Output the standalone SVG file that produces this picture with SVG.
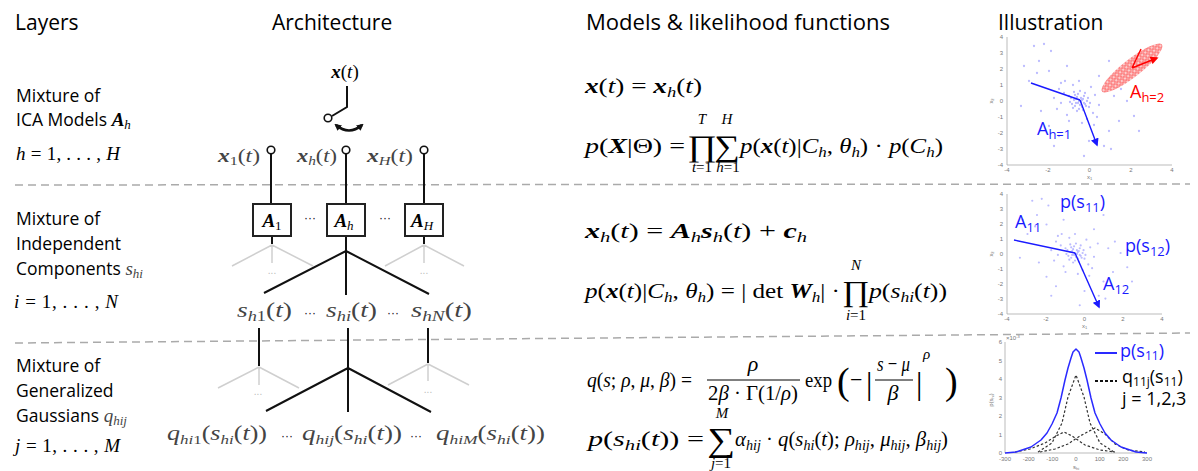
<svg xmlns="http://www.w3.org/2000/svg" width="1198" height="471" viewBox="0 0 1198 471">
<defs>
<style>
.h{font-family:"Open Sans","Liberation Sans",sans-serif;font-size:21px;fill:#000}
.l{font-family:"Open Sans","Liberation Sans",sans-serif;font-size:17.5px;fill:#000}
.m{font-family:"Liberation Serif","Times New Roman",serif;font-style:italic;fill:#000}
.op{font-family:"Liberation Serif","Times New Roman",serif;font-style:normal;fill:#000}
.bo{font-family:"Liberation Serif","DejaVu Serif",serif;font-style:normal;fill:#000;text-anchor:middle}
.g{fill:#444}
.b{font-weight:bold}
.n{font-style:normal}
.dash{stroke:#aaa;stroke-width:1.5;stroke-dasharray:8 5;fill:none}
.k{stroke:#111;stroke-width:2;fill:none}
.gr{stroke:#cfcfcf;stroke-width:1.5;fill:none}
.term{fill:#fff;stroke:#111;stroke-width:1.6}
.box{fill:#fff;stroke:#222;stroke-width:2}
.ax{stroke:#aaa;stroke-width:0.8;fill:none}
.tk{font-family:"Liberation Sans",sans-serif;font-size:6px;fill:#777}
.il{font-family:"Open Sans","Liberation Sans",sans-serif;font-size:18px}
.dots{font-family:"Liberation Sans",sans-serif;font-size:12px;fill:#111}
.gdots{font-family:"Liberation Sans",sans-serif;font-size:10px;fill:#bbb}
.pts{stroke:#6a6aff;stroke-opacity:0.45;stroke-width:2.3;stroke-linecap:round;fill:none}
</style>
<marker id="ak" viewBox="0 0 10 10" refX="7" refY="5" markerWidth="7" markerHeight="7" markerUnits="userSpaceOnUse" orient="auto-start-reverse"><path d="M0 0L10 5L0 10z" fill="#111"/></marker>
<marker id="abl" viewBox="0 0 10 10" refX="8" refY="5" markerWidth="8" markerHeight="8" markerUnits="userSpaceOnUse" orient="auto"><path d="M0 0L10 5L0 10z" fill="#1a1aff"/></marker>
<marker id="ard" viewBox="0 0 10 10" refX="8" refY="5" markerWidth="8" markerHeight="8" markerUnits="userSpaceOnUse" orient="auto"><path d="M0 0L10 5L0 10z" fill="#f00"/></marker>
<pattern id="rp" width="4" height="4" patternUnits="userSpaceOnUse"><circle cx="2" cy="2" r="1.4" fill="none" stroke="#f22" stroke-width="0.6"/></pattern>
<path id="bp" class="pts" d="M0 0h0M2 1h0M-3 2h0M4 -2h0M-5 -1h0M1 4h0M-2 -4h0M6 3h0M-7 3h0M3 6h0M-4 5h0M5 -5h0M-1 -7h0M8 0h0M-8 -3h0M2 -3h0M-3 -2h0M7 5h0M-6 7h0M0 8h0M9 -3h0M-9 1h0M4 9h0M-2 10h0M10 6h0M-10 -5h0M1 -10h0M-5 -9h0M11 2h0M6 -8h0M-1 2h0M3 -1h0M-4 -6h0M5 2h0M-15 -8h0M-18 2h0M14 12h0M16 -6h0M-12 14h0M-20 -12h0M20 4h0M8 18h0M-6 -16h0M12 -14h0M-22 8h0M18 16h0M-14 -20h0M3 22h0M-25 -3h0M24 -10h0M0 -20h0M-10 20h0M15 24h0M-18 -18h0M-45 -55h0M-35 -57h0M-28 -50h0M-40 -40h0M-30 -30h0M-50 -20h0M-58 5h0M-38 10h0M-30 25h0M-20 35h0M10 40h0M25 45h0M32 48h0M30 30h0M40 20h0M48 0h0M42 -12h0M55 15h0M30 -40h0M20 -25h0M-25 45h0M5 55h0M-42 -28h0M-12 -35h0M35 -5h0M60 30h0M-55 -35h0"/>
</defs>
<rect width="1198" height="471" fill="#fff"/>

<g id="headers">
<text class="h" x="15" y="30">Layers</text>
<text class="h" x="272" y="30">Architecture</text>
<text class="h" x="586" y="30" textLength="304" lengthAdjust="spacingAndGlyphs">Models &amp; likelihood functions</text>
<text class="h" x="998" y="30">Illustration</text>
</g>

<g id="separators">
<line class="dash" x1="15" y1="185" x2="1190" y2="184"/>
<line class="dash" x1="15" y1="343" x2="1190" y2="333"/>
</g>

<g id="layer-ica">
<text class="l" x="16" y="102">Mixture of</text>
<text class="l" x="16" y="126">ICA Models <tspan class="m b" font-size="19">A</tspan><tspan class="m" font-size="13" dy="3">h</tspan></text>
<text class="m" x="16" y="160" font-size="19" textLength="104" lengthAdjust="spacing">h <tspan class="n">= 1, . . . ,</tspan> H</text>
</g>
<g id="layer-components">
<text class="l" x="16" y="225">Mixture of</text>
<text class="l" x="16" y="250">Independent</text>
<text class="l" x="16" y="275">Components <tspan class="m g" font-size="19">s</tspan><tspan class="m g" font-size="13" dy="3">hi</tspan></text>
<text class="m" x="14" y="308" font-size="19" textLength="104" lengthAdjust="spacing">i <tspan class="n">= 1, . . . ,</tspan> N</text>
</g>
<g id="layer-gaussians">
<text class="l" x="16" y="372">Mixture of</text>
<text class="l" x="16" y="397">Generalized</text>
<text class="l" x="16" y="422">Gaussians <tspan class="m g" font-size="19">q</tspan><tspan class="m g" font-size="13" dy="3">hij</tspan></text>
<text class="m" x="15" y="452" font-size="19" textLength="105" lengthAdjust="spacing">j <tspan class="n">= 1, . . . ,</tspan> M</text>
</g>

<g id="connectors">
<path class="k" d="M347 86V107L332 116"/>
<path d="M336 125Q349 136 362 125" stroke="#111" stroke-width="2.5" fill="none" marker-start="url(#ak)" marker-end="url(#ak)"/>
<path class="k" d="M271 154V204M346 154V204M424 154V204"/>
<path class="k" d="M272 236V244M424 236V244M346 236V295M346 251L264 293M346 251L429 294"/>
<path class="gr" d="M272 245L232 266M272 245L313 266M272 245V263M424 245L385 266M424 245L464 266M424 245V263"/>
<path class="k" d="M259 328V366M428 328V363M348 328V412M348 368L266 411M348 368L431 412"/>
<path class="gr" d="M259 367L218 388M259 367L299 388M259 367V385M428 364L388 385M428 364L469 385M428 364V381"/>
</g>

<g id="switch">
<text class="m" x="345" y="78" font-size="19" text-anchor="middle"><tspan class="b">x</tspan><tspan class="n">(</tspan>t<tspan class="n">)</tspan></text>
<circle class="term" cx="328" cy="118" r="3.8"/>
</g>

<g id="module-1">
<circle class="term" cx="271" cy="150" r="3.8"/>
<text class="m g" x="218" y="162" font-size="19" textLength="42" lengthAdjust="spacingAndGlyphs"><tspan class="b">x</tspan><tspan font-size="13" dy="3" class="n">1</tspan><tspan class="n" dy="-3">(</tspan>t<tspan class="n">)</tspan></text>
<rect class="box" x="253" y="204" width="38" height="32"/>
<text class="m b" x="272" y="227" font-size="19" text-anchor="middle">A<tspan font-size="13" dy="3" class="n" font-weight="normal">1</tspan></text>
<text class="gdots" x="272" y="274" text-anchor="middle">...</text>
</g>
<g id="module-h">
<circle class="term" cx="346" cy="150" r="3.8"/>
<text class="m g" x="297" y="162" font-size="19" textLength="40" lengthAdjust="spacingAndGlyphs"><tspan class="b">x</tspan><tspan font-size="13" dy="3">h</tspan><tspan class="n" dy="-3">(</tspan>t<tspan class="n">)</tspan></text>
<rect class="box" x="327" y="204" width="38" height="32"/>
<text class="m b" x="344" y="227" font-size="19" text-anchor="middle">A<tspan font-size="13" dy="3" font-weight="normal">h</tspan></text>
</g>
<g id="module-H">
<circle class="term" cx="424" cy="150" r="3.8"/>
<text class="m g" x="367" y="162" font-size="19" textLength="46" lengthAdjust="spacingAndGlyphs"><tspan class="b">x</tspan><tspan font-size="13" dy="3">H</tspan><tspan class="n" dy="-3">(</tspan>t<tspan class="n">)</tspan></text>
<rect class="box" x="405" y="204" width="38" height="32"/>
<text class="m b" x="422" y="227" font-size="19" text-anchor="middle">A<tspan font-size="13" dy="3" font-weight="normal">H</tspan></text>
<text class="gdots" x="424" y="274" text-anchor="middle">...</text>
</g>
<g id="module-dots">
<text class="dots" x="310" y="222" text-anchor="middle">···</text>
<text class="dots" x="385" y="222" text-anchor="middle">···</text>
</g>

<g id="components">
<text class="m g" x="237" y="317" font-size="21" textLength="55" lengthAdjust="spacingAndGlyphs">s<tspan font-size="14" dy="4">h<tspan class="n">1</tspan></tspan><tspan class="n" dy="-4">(</tspan>t<tspan class="n">)</tspan></text>
<text class="dots" x="310" y="317" text-anchor="middle">···</text>
<text class="m g" x="326" y="317" font-size="21" textLength="51" lengthAdjust="spacingAndGlyphs">s<tspan font-size="14" dy="4">hi</tspan><tspan class="n" dy="-4">(</tspan>t<tspan class="n">)</tspan></text>
<text class="dots" x="393" y="317" text-anchor="middle">···</text>
<text class="m g" x="411" y="317" font-size="21" textLength="61" lengthAdjust="spacingAndGlyphs">s<tspan font-size="14" dy="4">hN</tspan><tspan class="n" dy="-4">(</tspan>t<tspan class="n">)</tspan></text>
<text class="gdots" x="258" y="395" text-anchor="middle">...</text>
<text class="gdots" x="428" y="393" text-anchor="middle">...</text>
</g>

<g id="gaussians">
<text class="m g" x="167" y="440" font-size="20" textLength="100" lengthAdjust="spacingAndGlyphs">q<tspan font-size="13" dy="4">hi<tspan class="n">1</tspan></tspan><tspan class="n" dy="-4">(</tspan>s<tspan font-size="13" dy="4">hi</tspan><tspan class="n" dy="-4">(</tspan>t<tspan class="n">))</tspan></text>
<text class="dots" x="287" y="440" text-anchor="middle">···</text>
<text class="m g" x="302" y="440" font-size="20" textLength="100" lengthAdjust="spacingAndGlyphs">q<tspan font-size="13" dy="4">hij</tspan><tspan class="n" dy="-4">(</tspan>s<tspan font-size="13" dy="4">hi</tspan><tspan class="n" dy="-4">(</tspan>t<tspan class="n">))</tspan></text>
<text class="dots" x="416" y="440" text-anchor="middle">···</text>
<text class="m g" x="436" y="440" font-size="20" textLength="109" lengthAdjust="spacingAndGlyphs">q<tspan font-size="13" dy="4">hiM</tspan><tspan class="n" dy="-4">(</tspan>s<tspan font-size="13" dy="4">hi</tspan><tspan class="n" dy="-4">(</tspan>t<tspan class="n">))</tspan></text>
</g>

<g id="eq-ica">
<text class="m" x="585" y="93" font-size="22" textLength="117" lengthAdjust="spacingAndGlyphs"><tspan class="b">x</tspan><tspan class="n">(</tspan>t<tspan class="n">) = </tspan><tspan class="b">x</tspan><tspan font-size="15" dy="4">h</tspan><tspan class="n" dy="-4">(</tspan>t<tspan class="n">)</tspan></text>
<text class="m" x="585" y="153" font-size="22" textLength="100" lengthAdjust="spacingAndGlyphs">p<tspan class="n">(</tspan><tspan class="b">X</tspan><tspan class="n">|Θ) =</tspan></text>
<text class="bo" font-size="30" transform="translate(702 156) scale(1.2 1)">∏</text>
<text class="m" x="702" y="124" font-size="15" text-anchor="middle">T</text>
<text class="m" x="702" y="172" font-size="15" text-anchor="middle">t<tspan class="n">=1</tspan></text>
<text class="bo" font-size="30" transform="translate(727 156) scale(1.2 1)">∑</text>
<text class="m" x="727" y="124" font-size="15" text-anchor="middle">H</text>
<text class="m" x="728" y="172" font-size="15" text-anchor="middle">h<tspan class="n">=1</tspan></text>
<text class="m" x="740" y="153" font-size="22" textLength="203" lengthAdjust="spacingAndGlyphs">p<tspan class="n">(</tspan><tspan class="b">x</tspan><tspan class="n">(</tspan>t<tspan class="n">)|</tspan>C<tspan font-size="15" dy="4">h</tspan><tspan class="n" dy="-4">, </tspan>θ<tspan font-size="15" dy="4">h</tspan><tspan class="n" dy="-4">) · </tspan>p<tspan class="n">(</tspan>C<tspan font-size="15" dy="4">h</tspan><tspan class="n" dy="-4">)</tspan></text>
</g>

<g id="eq-components">
<text class="m" x="585" y="238" font-size="22" textLength="222" lengthAdjust="spacingAndGlyphs"><tspan class="b">x</tspan><tspan font-size="15" dy="4">h</tspan><tspan class="n" dy="-4">(</tspan>t<tspan class="n">) = </tspan><tspan class="b">A</tspan><tspan font-size="15" dy="4">h</tspan><tspan class="b" dy="-4">s</tspan><tspan font-size="15" dy="4">h</tspan><tspan class="n" dy="-4">(</tspan>t<tspan class="n">) + </tspan><tspan class="b">c</tspan><tspan font-size="15" dy="4">h</tspan></text>
<text class="m" x="585" y="298" font-size="22" textLength="255" lengthAdjust="spacingAndGlyphs">p<tspan class="n">(</tspan><tspan class="b">x</tspan><tspan class="n">(</tspan>t<tspan class="n">)|</tspan>C<tspan font-size="15" dy="4">h</tspan><tspan class="n" dy="-4">, </tspan>θ<tspan font-size="15" dy="4">h</tspan><tspan class="n" dy="-4">) = | det </tspan><tspan class="b">W</tspan><tspan font-size="15" dy="4">h</tspan><tspan class="n" dy="-4">| ·</tspan></text>
<text class="bo" font-size="29" transform="translate(856 301) scale(1.15 1)">∏</text>
<text class="m" x="856" y="270" font-size="15" text-anchor="middle">N</text>
<text class="m" x="856" y="320" font-size="15" text-anchor="middle">i<tspan class="n">=1</tspan></text>
<text class="m" x="869" y="298" font-size="22" textLength="78" lengthAdjust="spacingAndGlyphs">p<tspan class="n">(</tspan>s<tspan font-size="15" dy="4">hi</tspan><tspan class="n" dy="-4">(</tspan>t<tspan class="n">))</tspan></text>
</g>

<g id="eq-gaussians">
<text class="m" x="587" y="387" font-size="22" textLength="105" lengthAdjust="spacingAndGlyphs">q<tspan class="n">(</tspan>s<tspan class="n">; </tspan>ρ<tspan class="n">, </tspan>μ<tspan class="n">, </tspan>β<tspan class="n">) =</tspan></text>
<text class="m" x="753" y="371" font-size="22" text-anchor="middle">ρ</text>
<line x1="707" y1="380" x2="800" y2="380" stroke="#000" stroke-width="1"/>
<text class="m" x="708" y="400" font-size="22" textLength="90" lengthAdjust="spacingAndGlyphs"><tspan class="n">2</tspan>β<tspan class="n"> · Γ(1/</tspan>ρ<tspan class="n">)</tspan></text>
<text class="op" x="805" y="387" font-size="22" textLength="27" lengthAdjust="spacingAndGlyphs">exp</text>
<text class="op" x="837" y="394" font-size="38">(</text>
<text class="op" x="850" y="387" font-size="22">−</text>
<text class="op" x="866" y="394" font-size="32">|</text>
<text class="m" x="877" y="371" font-size="22" textLength="33" lengthAdjust="spacingAndGlyphs">s <tspan class="n">−</tspan> μ</text>
<line x1="875" y1="380" x2="913" y2="380" stroke="#000" stroke-width="1"/>
<text class="m" x="893" y="400" font-size="22" text-anchor="middle">β</text>
<text class="op" x="916" y="394" font-size="32">|</text>
<text class="m" x="923" y="359" font-size="15">ρ</text>
<text class="op" x="945" y="394" font-size="38">)</text>
<text class="m" x="588" y="446" font-size="22" textLength="116" lengthAdjust="spacingAndGlyphs">p<tspan class="n">(</tspan>s<tspan font-size="15" dy="4">hi</tspan><tspan class="n" dy="-4">(</tspan>t<tspan class="n">)) =</tspan></text>
<text class="bo" font-size="34" transform="translate(721 451) scale(1.15 1)">∑</text>
<text class="m" x="722" y="418" font-size="15" text-anchor="middle">M</text>
<text class="m" x="721" y="468" font-size="15" text-anchor="middle">j<tspan class="n">=1</tspan></text>
<text class="m" x="735" y="446" font-size="22" textLength="213" lengthAdjust="spacingAndGlyphs">α<tspan font-size="15" dy="4">hij</tspan><tspan class="n" dy="-4"> · </tspan>q<tspan class="n">(</tspan>s<tspan font-size="15" dy="4">hi</tspan><tspan class="n" dy="-4">(</tspan>t<tspan class="n">); </tspan>ρ<tspan font-size="15" dy="4">hij</tspan><tspan class="n" dy="-4">, </tspan>μ<tspan font-size="15" dy="4">hij</tspan><tspan class="n" dy="-4">, </tspan>β<tspan font-size="15" dy="4">hij</tspan><tspan class="n" dy="-4">)</tspan></text>
</g>

<g id="plot-ica">
<path class="ax" d="M1007 37V165H1172"/>
<g class="tk" text-anchor="middle">
<text x="1007" y="172">-4</text><text x="1048" y="172">-2</text><text x="1089.5" y="172">0</text><text x="1131" y="172">2</text><text x="1172" y="172">4</text>
<text x="1089.5" y="179">x<tspan font-size="4" dy="1">1</tspan></text>
</g>
<g class="tk" text-anchor="end">
<text x="1003" y="39">4</text><text x="1003" y="55">3</text><text x="1003" y="71">2</text><text x="1003" y="87">1</text><text x="1003" y="103">0</text><text x="1003" y="119">-1</text><text x="1003" y="135">-2</text><text x="1003" y="151">-3</text><text x="1003" y="167">-4</text>
</g>
<text class="tk" transform="translate(993 101) rotate(-90)" text-anchor="middle">x<tspan font-size="4" dy="1">2</tspan></text>
<use href="#bp" transform="translate(1079 101)"/>
<g transform="translate(1132 68) rotate(-38)"><ellipse rx="38" ry="9" fill="#fbd2d2"/><ellipse rx="38" ry="9" fill="url(#rp)"/></g>
<path d="M1080 100L1031 83M1080 100L1097 145" stroke="#1a1aff" stroke-width="1.4" fill="none" marker-end="url(#abl)"/>
<path d="M1132 68L1141 49M1132 68L1157 58" stroke="#f00" stroke-width="1.4" fill="none" marker-end="url(#ard)"/>
<text class="il" x="1130" y="98" fill="#f00">A<tspan font-size="13" dy="4">h=2</tspan></text>
<text class="il" x="1037" y="135" fill="#1a1aff">A<tspan font-size="13" dy="4">h=1</tspan></text>
</g>

<g id="plot-components">
<path class="ax" d="M1007 194V314H1162"/>
<g class="tk" text-anchor="middle">
<text x="1007" y="321">-4</text><text x="1046" y="321">-2</text><text x="1084.5" y="321">0</text><text x="1123" y="321">2</text><text x="1162" y="321">4</text>
<text x="1084.5" y="328">x<tspan font-size="4" dy="1">1</tspan></text>
</g>
<g class="tk" text-anchor="end">
<text x="1003" y="196">4</text><text x="1003" y="211">3</text><text x="1003" y="226">2</text><text x="1003" y="241">1</text><text x="1003" y="256">0</text><text x="1003" y="271">-1</text><text x="1003" y="286">-2</text><text x="1003" y="301">-3</text><text x="1003" y="316">-4</text>
</g>
<text class="tk" transform="translate(993 254) rotate(-90)" text-anchor="middle">x<tspan font-size="4" dy="1">2</tspan></text>
<use href="#bp" transform="translate(1075 253) scale(0.95)"/>
<path d="M1075 253L1014 240M1075 253L1099 307" stroke="#1a1aff" stroke-width="1.4" fill="none" marker-end="url(#abl)"/>
<g class="il" fill="#1a1aff">
<text x="1060" y="208">p(s<tspan font-size="13" dy="4">11</tspan><tspan dy="-4">)</tspan></text>
<text x="1015" y="228">A<tspan font-size="13" dy="4">11</tspan></text>
<text x="1125" y="252">p(s<tspan font-size="13" dy="4">12</tspan><tspan dy="-4">)</tspan></text>
<text x="1103" y="290">A<tspan font-size="13" dy="4">12</tspan></text>
</g>
</g>

<g id="plot-gaussians">
<path class="ax" d="M1005 342V453H1147"/>
<g class="tk" text-anchor="middle">
<text x="1005" y="461">-300</text><text x="1028.7" y="461">-200</text><text x="1052.3" y="461">-100</text><text x="1076" y="461">0</text><text x="1099.7" y="461">100</text><text x="1123.3" y="461">200</text><text x="1147" y="461">300</text>
<text x="1076" y="469">s<tspan font-size="4" dy="1">hi</tspan></text>
</g>
<g class="tk" text-anchor="end">
<text x="1002" y="455">0</text><text x="1002" y="436.5">1</text><text x="1002" y="418">2</text><text x="1002" y="399.5">3</text><text x="1002" y="381">4</text><text x="1002" y="362.5">5</text><text x="1002" y="344">6</text>
</g>
<text class="tk" x="1006" y="340" font-size="5">×10<tspan font-size="4" dy="-2">-3</tspan></text>
<text class="tk" transform="translate(993 400) rotate(-90)" text-anchor="middle">p(s<tspan font-size="4" dy="1">hi</tspan><tspan dy="-1">)</tspan></text>
<g fill="none" stroke="#333" stroke-width="1.2" stroke-dasharray="2.5 2">
<polyline points="1038,452 1052,443 1062,423 1068,397 1076,375 1084,397 1090,423 1100,443 1114,452"/>
<polyline points="1015,452 1030,449 1045,443 1056,436 1064,432 1072,436 1085,445 1100,450 1115,452"/>
<polyline points="1040,452 1055,449 1068,444 1080,436 1095,428 1105,434 1115,444 1128,450 1145,452"/>
</g>
<polyline fill="none" stroke="#2a2aff" stroke-width="1.5" stroke-linejoin="round" points="1005,453 1016,452 1031,447 1041,440 1047,433 1052,424 1057,413 1061,398 1065,380 1068,368 1071,358 1073,352 1076,349 1079,352 1081,358 1084,368 1087,380 1091,398 1095,413 1100,424 1105,433 1111,440 1121,447 1136,452 1147,453"/>
<line x1="1095" y1="353" x2="1117" y2="353" stroke="#2a2aff" stroke-width="2"/>
<line x1="1095" y1="381" x2="1117" y2="381" stroke="#111" stroke-width="2" stroke-dasharray="3 2"/>
<text class="il" x="1120" y="357" font-size="17" fill="#1a1aff">p(s<tspan font-size="12" dy="3">11</tspan><tspan dy="-3">)</tspan></text>
<text class="il" x="1122" y="383" font-size="17">q<tspan font-size="12" dy="3">11j</tspan><tspan dy="-3">(s</tspan><tspan font-size="12" dy="3">11</tspan><tspan dy="-3">)</tspan></text>
<text class="il" x="1122" y="405" font-size="17">j = 1,2,3</text>
</g>
</svg>
